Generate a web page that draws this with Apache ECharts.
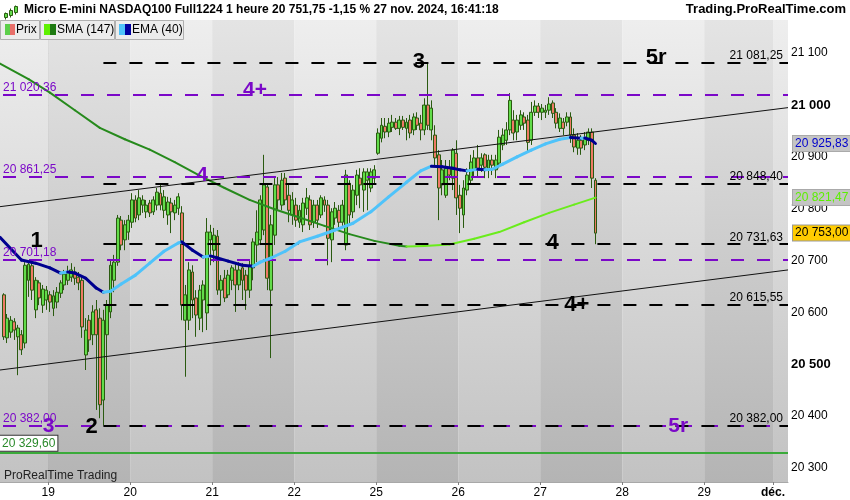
<!DOCTYPE html>
<html><head><meta charset="utf-8">
<script src="https://cdn.jsdelivr.net/npm/echarts@6/dist/echarts.min.js"></script>
<style>html,body{margin:0;padding:0;background:#fff}#c{width:850px;height:500px}</style>
</head><body><div id="c"></div>
<script>
// ---------------- DATA ----------------
// hourly bars; bar index 0 = 19 nov 00:00, first candle is bar -13 (18 nov)
const firstBar = -13;
// [open, close, low, high]
const candles = [
[20634,20553,20547,20637],[20551,20589,20541,20597],[20562,20585,20551,20593],[20582,20566,20547,20589],
[20553,20570,20479,20576],[20557,20528,20518,20566],[20541,20691,20531,20697],[20662,20693,20630,20699],
[20690,20643,20624,20697],[20605,20662,20589,20668],[20657,20628,20614,20662],[20614,20645,20599,20653],
[20624,20643,20605,20651],
[20634,20620,20601,20641],[20608,20632,20593,20643],[20620,20639,20608,20649],[20637,20657,20628,20662],
[20653,20674,20643,20682],[20662,20678,20653,20690],[20668,20682,20659,20695],[20678,20666,20653,20688],
[20668,20657,20643,20678],[20662,20572,20551,20672],[20518,20566,20489,20589],[20585,20547,20524,20595],
[20557,20601,20537,20614],[20605,20557,20412,20624],[20589,20422,20396,20608],[20431,20585,20382,20605],
[20557,20614,20470,20624],[20601,20691,20589,20701],[20662,20697,20639,20711],[20697,20782,20690,20788],
[20778,20730,20720,20786],[20740,20769,20720,20778],[20755,20778,20740,20788],
[20774,20817,20763,20830],[20817,20782,20774,20826],[20788,20821,20778,20836],[20807,20817,20792,20826],
[20794,20807,20782,20817],[20811,20792,20784,20817],[20794,20817,20788,20824],[20807,20832,20797,20840],
[20830,20807,20797,20846],[20797,20823,20782,20836],[20788,20813,20769,20823],[20811,20794,20753,20821],
[20792,20807,20778,20817],[20801,20823,20788,20830],[20792,20614,20585,20805],[20585,20634,20476,20653],
[20585,20682,20566,20697],[20678,20624,20589,20691],[20628,20595,20553,20643],[20589,20643,20566,20653],
[20624,20653,20562,20662],[20599,20755,20566,20782],[20740,20755,20691,20769],
[20720,20749,20697,20763],[20747,20643,20634,20759],[20643,20662,20614,20672],[20666,20628,20620,20682],
[20634,20672,20628,20682],[20662,20686,20643,20691],[20682,20653,20601,20695],[20653,20682,20643,20697],
[20686,20662,20624,20695],[20672,20643,20605,20682],[20643,20691,20628,20701],[20686,20736,20662,20743],
[20730,20755,20697,20797],[20740,20817,20730,20826],[20759,20846,20749,20904],[20842,20666,20643,20849],
[20643,20769,20512,20788],[20749,20846,20730,20859],[20846,20817,20797,20861],[20807,20855,20797,20869],
[20859,20817,20807,20869],[20826,20797,20774,20846],[20788,20817,20769,20832],
[20807,20778,20765,20821],[20774,20797,20763,20807],[20769,20811,20755,20821],[20801,20821,20788,20840],
[20817,20769,20759,20826],[20774,20807,20763,20817],[20807,20778,20763,20817],[20788,20821,20782,20826],
[20817,20807,20794,20824],[20807,20743,20691,20817],[20740,20794,20697,20801],[20782,20801,20769,20813],
[20797,20774,20763,20807],[20774,20807,20767,20817],[20730,20865,20720,20875],[20849,20788,20769,20855],
[20794,20836,20782,20846],[20826,20865,20807,20875],[20859,20846,20801,20878],[20836,20871,20794,20878],
[20855,20871,20797,20878],[20840,20871,20832,20878],[20859,20875,20846,20884],
[20907,20946,20904,20955],[20936,20961,20928,20975],[20959,20948,20936,20975],[20948,20965,20938,20975],
[20957,20967,20948,20981],[20967,20955,20952,20975],[20955,20971,20942,20979],[20971,20957,20952,20979],
[20955,20967,20932,20975],[20971,20946,20936,20981],[20952,20977,20942,20984],[20975,20961,20952,20986],
[20965,20952,20932,20981],[20952,21000,20942,21013],[21000,20961,20952,21081.25],[20952,20994,20932,21009],
[20942,20898,20884,20961],[20904,20840,20778,20913],[20846,20875,20826,20894],[20826,20878,20821,20894],
[20878,20865,20855,20894],[20859,20913,20836,20917],[20907,20821,20788,20932],
[20826,20801,20753,20846],[20788,20840,20763,20855],[20836,20865,20826,20878],[20855,20890,20846,20904],
[20875,20898,20861,20913],[20898,20878,20861,20923],[20884,20898,20871,20907],[20904,20880,20859,20907],
[20878,20894,20859,20904],[20894,20884,20865,20904],[20875,20894,20859,20904],[20888,20938,20878,20952],
[20923,20942,20913,20955],[20932,20952,20923,20967],[20952,21009,20942,21023],[20971,20946,20932,20990],
[20948,20971,20932,20981],[20961,20981,20952,20990],[20977,20965,20952,20986],[20971,20928,20909,20981],
[20932,20986,20923,21006],[20986,20998,20979,21009],[20998,20986,20975,21004],
[20986,20994,20971,21002],[20986,20990,20975,21000],[20990,21002,20981,21015],[21004,20984,20975,21009],
[20986,20965,20955,20994],[20955,20975,20948,20984],[20967,20955,20942,20975],[20967,20977,20959,20986],
[20977,20942,20927,20986],[20942,20919,20909,20955],[20917,20932,20904,20946],[20932,20917,20904,20942],
[20923,20936,20913,20948],[20932,20948,20923,20955],[20948,20859,20840,20955],[20855,20753,20731.63,20859]
];

// SMA (147)
const smaBars = [-14,-6,0,7,14,21,28,35,42,49,56,63,70,77,84,91,98,100,105,112,119,126,133,140,147,153];
const smaVals = [21080,21050,21024,20990,20956,20934,20914,20890,20864,20840,20817,20799,20783,20767,20751,20738,20728.5,20727,20728,20731,20742,20755,20774,20792,20808,20821.47];

// EMA (40)
const emaBars = [-14,-8,-4,0,3,5,7,10,13,15,17,20,24,28,32,36,37,40,43,45,47,50,54,57,59,62,66,70,75,80,85,90,95,100,104,107,110,113,115,117,118,120,122,124,127,131,135,139,143,146,149,150,152,153];
const emaVals = [20745,20701,20695,20686,20676,20678,20676,20666,20647,20639,20641,20655,20672,20695,20718,20734,20736,20720,20707,20709,20705,20699,20691,20689,20697,20705,20718,20736,20747,20759,20772,20794,20823,20851,20873,20882,20881,20878,20875,20873,20874,20876,20875,20876,20886,20900,20913,20925,20934,20937.5,20936,20936.5,20932,20925.83];

// x axis (bar units): day starts and labels
const dayTicks  = [0,23,46,69,92,115,138,161,184,203.3];
const dayLabels = ['19','20','21','22','25','26','27','28','29','déc.'];
const xRange = [-13.5, 207.5];

// y axis
const priceTicks = [20300,20400,20500,20600,20700,20800,20900,21000,21100];
const yRange = [20273, 21164];

// horizontal levels
const blackLevels  = [21081.25, 20848.40, 20731.63, 20615.55, 20382.00];
const blackStart   = 15.5;            // drawn from the wave-2 low bar
const purpleLevels = [21020.36, 20861.25, 20701.18, 20382.00];
const supportLevel = 20329.60;

// channel lines [[x0,p0],[x1,p1]]
const channels = [
  [[-13.5,20804],[207.5,20995]],
  [[-13.5,20489],[207.5,20682]],
  [[-13.5,20236.5],[207.5,20429.4]]
];

// wave labels [text, x, price]
const waveBlack  = [['1',-3.2,20737],['2',12.2,20380],['3',104,21083],['4',141.5,20734],['4+',148.3,20614],['5r',170.5,21090]];
const wavePurple = [['4+',58,21029],['4',43.2,20865],['3',0.1,20381],['5r',176.7,20381]];

// last values
const lastPrice = 20753.00, smaLast = 20821.47, emaLast = 20925.83;

// ---------------- CHART ----------------
const FONT = "'Liberation Sans', Arial, sans-serif";
const PURPLE = '#7b08c8';
function fmt(v){ const s = v.toFixed(2).split('.'); return s[0].replace(/\B(?=(\d{3})+(?!\d))/g,' ') + ',' + s[1]; }
function fmtInt(v){ return String(v).replace(/\B(?=(\d{3})+(?!\d))/g,' '); }

const chart = echarts.init(document.getElementById('c'), null, {renderer:'canvas'});

// day bands
const edges = [xRange[0]].concat(dayTicks, [xRange[1]]);
const bandAreas = [];
for (let i=0;i<edges.length-1;i++){
  const light = i%2===0;
  bandAreas.push([{xAxis:edges[i], itemStyle:{color:{type:'linear',x:0,y:0,x2:0,y2:1,colorStops: light?
      [{offset:0,color:'#eeeeee'},{offset:1,color:'#c2c2c2'}]:[{offset:0,color:'#e4e4e4'},{offset:1,color:'#b4b4b4'}]}}},{xAxis:edges[i+1]}]);
}

function trendSeries(name, bars, vals, upColor, downColor, width, z){
  return {type:'custom', name, z, clip:true, silent:true,
    data: bars.map((b,i)=>[b+0.5, vals[i]]), encode:{x:0,y:1},
    renderItem(params, api){
      const i = params.dataIndex; if (i===0) return null;
      const p0 = api.coord([bars[i-1]+0.5, vals[i-1]]);
      const p1 = api.coord([bars[i]+0.5, vals[i]]);
      return {type:'line', shape:{x1:p0[0],y1:p0[1],x2:p1[0],y2:p1[1]},
        style:{stroke: vals[i]>=vals[i-1]?upColor:downColor, lineWidth:width, lineCap:'round'}};
    }};
}

function waveSeries(list, color, size, family){
  return {type:'custom', z:8, silent:true, clip:false,
    data: list.map(w=>[w[1],w[2]]), encode:{x:0,y:1},
    renderItem(params, api){
      const p = api.coord([api.value(0), api.value(1)]);
      return {type:'text', x:p[0], y:p[1], style:{text:list[params.dataIndex][0], fill:color,
        font:'bold '+size+'px '+family, align:'center', verticalAlign:'middle'}};
    }};
}

const levelLines = [];
purpleLevels.forEach(p=>levelLines.push([
  {coord:[xRange[0],p], lineStyle:{color:PURPLE,width:2,type:[13,13],dashOffset:-3},
   label:{show:true, position:'insideStartTop', formatter:fmt(p), color:PURPLE, fontSize:12, fontFamily:FONT, distance:[3,1]}},
  {coord:[xRange[1],p]}]));
blackLevels.forEach(p=>levelLines.push([
  {coord:[blackStart,p], lineStyle:{color:'#000',width:2,type:[13,13]},
   label:{show:true, position:'insideEndTop', formatter:fmt(p), color:'#000', fontSize:12, fontFamily:FONT, distance:[5,1]}},
  {coord:[xRange[1],p]}]));
levelLines.push([
  {coord:[xRange[0],supportLevel], lineStyle:{color:'#3aaa3a',width:2,type:'solid'},
   label:{show:true, position:'insideStartTop', formatter:fmt(supportLevel), color:'#2a8a2a', fontSize:12, fontFamily:FONT,
          backgroundColor:'#fff', borderColor:'#333', borderWidth:1, padding:[2,2,1,2], distance:[0,2]}},
  {coord:[xRange[1],supportLevel]}]);

function tag(p, color, bg, border){
  return [{coord:[xRange[1]-0.3,p], lineStyle:{color:'rgba(0,0,0,0)', width:0},
    label:{show:true, position:'end', formatter:fmt(p), color, backgroundColor:bg, borderColor:border, borderWidth:1,
           padding:[2,2,1,2], fontSize:12, fontFamily:FONT, distance:5, opacity:1}},
    {coord:[xRange[1],p]}];
}

const option = {
  animation:false,
  backgroundColor:'#ffffff',
  textStyle:{fontFamily:FONT},
  grid:{left:0, right:62, top:20, bottom:18, containLabel:false, outerBoundsMode:'none'},
  xAxis:{type:'value', min:xRange[0], max:xRange[1],
    axisLine:{show:true, onZero:false, lineStyle:{color:'#a8a8a8'}},
    axisTick:{show:true, customValues:dayTicks, length:3, lineStyle:{color:'#808080'}},
    axisLabel:{customValues:dayTicks, color:'#000', fontSize:12, fontFamily:FONT, margin:5,
      formatter:(v)=>{const i=dayTicks.findIndex(t=>Math.abs(t-v)<1e-6); const s=i>=0?dayLabels[i]:''; return isNaN(parseInt(s))?'{b|'+s+'}':s;},
      rich:{b:{fontWeight:'bold', fontSize:12, fontFamily:FONT, color:'#000'}}},
    splitLine:{show:false}},
  yAxis:{type:'value', position:'right', min:yRange[0], max:yRange[1],
    axisLine:{show:true, lineStyle:{color:'#a8a8a8'}},
    axisTick:{show:true, customValues:priceTicks, length:5, lineStyle:{color:'#808080'}},
    axisLabel:{customValues:priceTicks, color:'#000', fontSize:12, fontFamily:FONT, margin:3,
      formatter:(v)=> v%500===0 ? '{b|'+fmtInt(v)+'}' : fmtInt(v),
      rich:{b:{fontWeight:'bold', fontSize:13, fontFamily:FONT, color:'#000'}}},
    splitLine:{show:false}},
  series:[
    {type:'line', z:0, silent:true, data:[[xRange[0],yRange[0]]], symbol:'none', lineStyle:{opacity:0},
     markArea:{silent:true, data:bandAreas}},
    {type:'candlestick', z:2, barWidth:3.4, data: candles.map((r,i)=>[firstBar+i+0.5, r[0], r[1], r[2], r[3]]),
     encode:{x:0, y:[1,2,3,4]},
     itemStyle:{color:'#62dc4a', color0:'#ee7a66', borderColor:'#2a5a10', borderColor0:'#2a5a10', borderWidth:1}},
    {type:'line', z:3, silent:true, data:[], symbol:'none',
     markLine:{silent:true, symbol:['none','none'], data: channels.map(c=>[{coord:c[0], lineStyle:{color:'#111',width:1,type:'solid'}},{coord:c[1]}])}},
    trendSeries('SMA (147)', smaBars, smaVals, '#6aec1c', '#268a1c', 2, 4),
    trendSeries('EMA (40)', emaBars, emaVals, '#4fc3fa', '#00008f', 3, 5),
    {type:'line', z:6, silent:true, data:[], symbol:'none',
     markLine:{silent:true, symbol:['none','none'], data:levelLines}},
    {type:'line', z:7, silent:true, clip:false, data:[], symbol:'none',
     markLine:{silent:true, symbol:['none','none'], data:[
       tag(emaLast,'#0000cc','#c4c4c4','#aaaaaa'),
       tag(smaLast,'#5cf000','#c4c4c4','#aaaaaa'),
       tag(lastPrice,'#000000','#ffcc00','#999999')]}},
    waveSeries(waveBlack, '#000000', 22, "'Liberation Sans', Arial, sans-serif"),
    waveSeries(wavePurple, PURPLE, 21, "'Liberation Sans Narrow', 'Liberation Sans', Arial, sans-serif")
  ],
  graphic:[
    {type:'group', left:3, top:3, z:100, children:[
      {type:'line', z:100, shape:{x1:3,y1:9,x2:3,y2:16}, style:{stroke:'#2c5e12',lineWidth:1}},
      {type:'rect', z:100, shape:{x:2,y:10,width:3,height:4}, style:{fill:'#62dc4a',stroke:'#2c5e12',lineWidth:1}},
      {type:'line', z:100, shape:{x1:8,y1:5,x2:8,y2:14}, style:{stroke:'#2c5e12',lineWidth:1}},
      {type:'rect', z:100, shape:{x:7,y:7,width:3,height:5}, style:{fill:'#62dc4a',stroke:'#2c5e12',lineWidth:1}},
      {type:'line', z:100, shape:{x1:13,y1:2,x2:13,y2:11}, style:{stroke:'#2c5e12',lineWidth:1}},
      {type:'rect', z:100, shape:{x:12,y:3,width:3,height:6}, style:{fill:'#62dc4a',stroke:'#2c5e12',lineWidth:1}}
    ]},
    {type:'text', left:24, top:4, z:100, style:{text:'Micro E-mini NASDAQ100 Full1224 1 heure 20 751,75 -1,15 % 27 nov. 2024, 16:41:18', fill:'#000', font:"bold 12px 'Liberation Sans', Arial"}},
    {type:'text', right:4, top:3, z:100, style:{text:'Trading.ProRealTime.com', fill:'#000', font:"bold 13px 'Liberation Sans', Arial"}},
    // legend row
    {type:'rect', z:100, shape:{x:0.5,y:20.5,width:39,height:19}, style:{fill:'#ececec',stroke:'#b0b0b0',lineWidth:1}},
    {type:'rect', z:101, shape:{x:5,y:24,width:5,height:11}, style:{fill:'#5ccf4a'}},
    {type:'rect', z:101, shape:{x:10,y:24,width:5,height:11}, style:{fill:'#e8706a'}},
    {type:'text', z:101, x:16, y:24, style:{text:'Prix', fill:'#000', font:"12px 'Liberation Sans', Arial"}},
    {type:'rect', z:100, shape:{x:40.5,y:20.5,width:74,height:19}, style:{fill:'#ececec',stroke:'#b0b0b0',lineWidth:1}},
    {type:'rect', z:101, shape:{x:44,y:24,width:6,height:11}, style:{fill:'#5ef000'}},
    {type:'rect', z:101, shape:{x:50,y:24,width:6,height:11}, style:{fill:'#1e7a12'}},
    {type:'text', z:101, x:57, y:24, style:{text:'SMA (147)', fill:'#000', font:"12px 'Liberation Sans', Arial"}},
    {type:'rect', z:100, shape:{x:115.5,y:20.5,width:68,height:19}, style:{fill:'#ececec',stroke:'#b0b0b0',lineWidth:1}},
    {type:'rect', z:101, shape:{x:119,y:24,width:6,height:11}, style:{fill:'#4fc3fa'}},
    {type:'rect', z:101, shape:{x:125,y:24,width:6,height:11}, style:{fill:'#0000a0'}},
    {type:'text', z:101, x:132, y:24, style:{text:'EMA (40)', fill:'#000', font:"12px 'Liberation Sans', Arial"}},
    {type:'text', left:4, top:470, z:100, style:{text:'ProRealTime Trading', fill:'#222', font:"12px 'Liberation Sans', Arial"}}
  ]
};
chart.setOption(option);
</script></body></html>
